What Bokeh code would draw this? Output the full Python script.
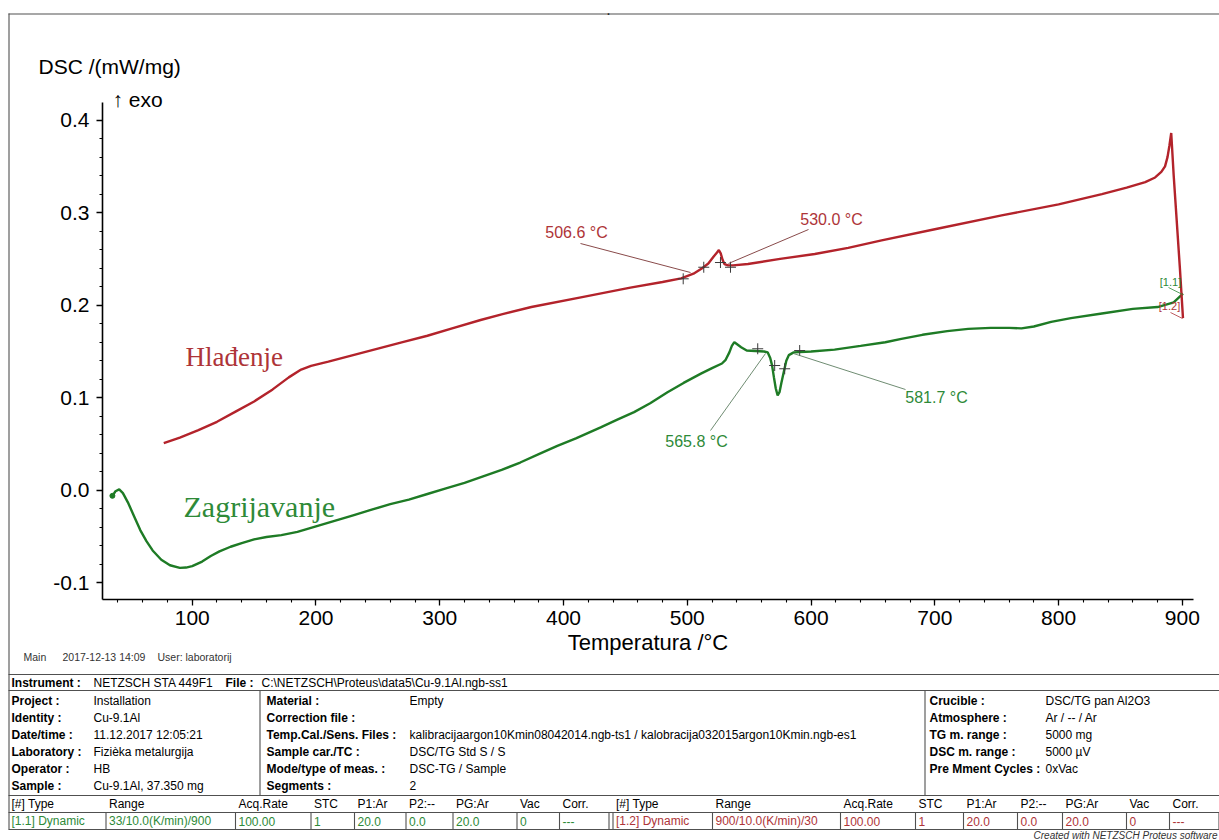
from bokeh.plotting import figure
from bokeh.models import (Range1d, SingleIntervalTicker, PrintfTickFormatter, LinearAxis)
from bokeh.embed import file_html
from bokeh.resources import INLINE
from bokeh.core.properties import value

# ---------------- data ----------------
# heating segment [1.1] (Zagrijavanje): temperature / degC, DSC / (mW/mg)
heat_T = [35.5, 38, 41, 44, 48, 53, 58, 63, 68, 75, 82, 90, 95, 100, 108, 115, 122, 131,
          140, 150, 160, 172, 185, 200, 215, 230, 245, 260, 275, 290, 305, 320, 335, 350,
          365, 380, 395, 410, 420, 430, 443, 457, 470, 484, 497, 511, 520, 528, 531, 534,
          536, 538, 540, 543.5, 548, 555, 562, 565, 567, 568.5, 570, 571.5, 573, 574.5,
          576, 578, 580, 582, 586, 600, 619, 640, 660, 673, 690, 710, 727, 745, 760, 770,
          780, 794, 810, 835, 860, 880, 893, 900.5]
heat_dsc = [-0.006, -0.001, 0.001, -0.003, -0.013, -0.028, -0.043, -0.055, -0.065, -0.075,
            -0.081, -0.0838, -0.0835, -0.082, -0.077, -0.071, -0.066, -0.061, -0.057, -0.053,
            -0.0505, -0.0485, -0.045, -0.039, -0.033, -0.027, -0.021, -0.015, -0.010, -0.004,
            0.002, 0.008, 0.015, 0.022, 0.030, 0.039, 0.048, 0.056, 0.062, 0.068, 0.076,
            0.0845, 0.094, 0.106, 0.116, 0.126, 0.132, 0.137, 0.141, 0.149, 0.156, 0.160,
            0.158, 0.1545, 0.151, 0.1505, 0.150, 0.149, 0.143, 0.135, 0.122, 0.110, 0.1025,
            0.106, 0.116, 0.128, 0.140, 0.146, 0.149, 0.150, 0.152, 0.156, 0.160, 0.1636,
            0.168, 0.172, 0.1744, 0.1755, 0.1755, 0.175, 0.177, 0.182, 0.186, 0.191, 0.196,
            0.198, 0.203, 0.2125]

# cooling segment [1.2] (Hladenje), from 900 degC down
cool_T = [900.5, 898, 895.5, 893, 891, 889.5, 888, 886, 883, 878, 870, 855, 835, 800, 754,
          700, 657, 630, 603, 575, 549, 537, 533, 530, 528.5, 527, 525.5, 524, 521, 517,
          512, 505, 495, 480, 454, 414, 374, 350, 333, 310, 290, 270, 250, 230, 210, 196,
          188, 178, 165, 150, 135, 120, 105, 90, 77]
cool_dsc = [0.186, 0.24, 0.29, 0.34, 0.386, 0.372, 0.36, 0.35, 0.344, 0.338, 0.333, 0.327,
            0.32, 0.309, 0.297, 0.282, 0.270, 0.262, 0.2553, 0.250, 0.2445, 0.243, 0.243,
            0.2445, 0.249, 0.256, 0.2595, 0.257, 0.252, 0.245, 0.240, 0.234, 0.229, 0.225,
            0.219, 0.2085, 0.198, 0.190, 0.184, 0.175, 0.167, 0.160, 0.153, 0.146, 0.139,
            0.1345, 0.1305, 0.122, 0.109, 0.096, 0.085, 0.074, 0.065, 0.057, 0.051]

# evaluation marks (tangent points) of the two effects
cool_mark_T = [496.7, 513.3, 526.8, 534.9]
cool_mark_dsc = [0.2285, 0.241, 0.2461, 0.241]
heat_mark_T = [556.9, 570.6, 578.7, 590.8]
heat_mark_dsc = [0.1529, 0.1348, 0.1313, 0.151]

# onset labels
cool_onsets = ["506.6 °C", "530.0 °C"]
heat_onsets = ["565.8 °C", "581.7 °C"]

x_tick_interval = 100
y_tick_interval = 0.1
x_axis_span = (27.5, 909.0)
y_axis_span = (-0.118, 0.419)

# ---------------- layout ----------------
W, H = 1219, 840
# plot area on the page (pixels) that the axis spans occupy
PX_L, PX_R, PY_T, PY_B = 102.0, 1193.0, 102.0, 599.0
sx = (PX_R - PX_L) / (x_axis_span[1] - x_axis_span[0])
sy = (PY_B - PY_T) / (y_axis_span[1] - y_axis_span[0])
x_full = (x_axis_span[0] - PX_L / sx, x_axis_span[0] + (W - PX_L) / sx)
y_full = (y_axis_span[0] - (H - PY_B) / sy, y_axis_span[1] + PY_T / sy)

RED = "#B3232B"
GREEN = "#1E7B25"
RED_T = "#AE3438"
GREEN_T = "#2E8A38"
FONT = "Liberation Sans"
LINE = "#505050"

p = figure(width=W, height=H, x_range=Range1d(*x_full), y_range=Range1d(*y_full),
           output_backend="svg", toolbar_location=None,
           x_axis_location=None, y_axis_location=None, min_border=0)
p.outline_line_color = None
p.grid.visible = False
p.background_fill_color = "white"
p.border_fill_color = "white"
# page-pixel coordinate system for decorations and the info table
p.extra_x_ranges = {"px": Range1d(0, W)}
p.extra_y_ranges = {"py": Range1d(H, 0)}

xa = LinearAxis(fixed_location=y_axis_span[0], bounds=x_axis_span,
                ticker=SingleIntervalTicker(interval=x_tick_interval, num_minor_ticks=5),
                axis_label="Temperatura /°C")
ya = LinearAxis(fixed_location=x_axis_span[0], bounds=y_axis_span,
                ticker=SingleIntervalTicker(interval=y_tick_interval, num_minor_ticks=5),
                formatter=PrintfTickFormatter(format="%.1f"))
for ax in (xa, ya):
    ax.axis_line_color = "black"
    ax.axis_line_width = 1.6
    ax.major_tick_line_color = "black"
    ax.minor_tick_line_color = "black"
    ax.major_tick_line_width = 1.3
    ax.minor_tick_line_width = 1.1
    ax.major_tick_in = 0
    ax.major_tick_out = 6
    ax.minor_tick_in = 0
    ax.minor_tick_out = 3
    ax.major_label_text_font = FONT
    ax.major_label_text_font_size = "21px"
    ax.major_label_text_color = "black"
    ax.axis_label_text_font = FONT
    ax.axis_label_text_font_size = "22px"
    ax.axis_label_text_font_style = "normal"
    ax.axis_label_text_color = "black"
xa.major_label_standoff = 5
xa.axis_label_standoff = 2
ya.major_label_standoff = 7
p.add_layout(xa, "below")
p.add_layout(ya, "left")

# curves
p.line(heat_T, heat_dsc, line_color=GREEN, line_width=2.4)
p.line(cool_T, cool_dsc, line_color=RED, line_width=2.4)
p.scatter([heat_T[0]], [heat_dsc[0]], size=5, color=GREEN)

# evaluation crosses
p.scatter(cool_mark_T, cool_mark_dsc, marker="cross", size=11, line_color="#3a3a3a", line_width=1)
p.scatter(heat_mark_T, heat_mark_dsc, marker="cross", size=11, line_color="#3a3a3a", line_width=1)

PXR = dict(x_range_name="px", y_range_name="py")

# leader lines (label end -> curve), page pixels
p.segment(x0=[580, 808], y0=[243, 229], x1=[690, 728], y1=[272, 263],
          line_color="#7a3535", line_width=0.9, **PXR)
p.segment(x0=[710, 905], y0=[430, 389], x1=[765, 793], y1=[353, 353],
          line_color="#5f7f62", line_width=0.9, **PXR)
p.segment(x0=[1168], y0=[287], x1=[1182], y1=[294], line_color=GREEN_T, line_width=0.8, **PXR)
p.segment(x0=[1170], y0=[312], x1=[1182], y1=[318], line_color=RED_T, line_width=0.8, **PXR)

# onset texts
p.text(x=[576, 831], y=[232, 219], text=cool_onsets, text_font=value(FONT),
       text_font_size="16px", text_color=RED_T, text_align="center", text_baseline="middle", **PXR)
p.text(x=[696, 936], y=[441, 397], text=heat_onsets, text_font=value(FONT),
       text_font_size="16px", text_color=GREEN_T, text_align="center", text_baseline="middle", **PXR)
p.text(x=[1170], y=[281], text=["[1.1]"], text_font=value(FONT), text_font_size="11px",
       text_color=GREEN_T, text_align="center", text_baseline="middle", **PXR)
p.text(x=[1169], y=[305], text=["[1.2]"], text_font=value(FONT), text_font_size="11px",
       text_color=RED_T, text_align="center", text_baseline="middle", **PXR)

# segment names
p.text(x=[185], y=[356], text=["Hlađenje"], text_font=value("Liberation Serif"),
       text_font_size="27px", text_color=RED_T, text_align="left", text_baseline="middle", **PXR)
p.text(x=[183], y=[506], text=["Zagrijavanje"], text_font=value("Liberation Serif"),
       text_font_size="30px", text_color=GREEN_T, text_align="left", text_baseline="middle", **PXR)

# header texts
p.text(x=[38], y=[66], text=["DSC /(mW/mg)"], text_font=value(FONT), text_font_size="21px",
       text_color="black", text_align="left", text_baseline="middle", **PXR)
p.text(x=[112], y=[99], text=["↑ exo"], text_font=value(FONT), text_font_size="21px",
       text_color="black", text_align="left", text_baseline="middle", **PXR)
p.text(x=[608], y=[8], text=["."], text_font=value(FONT), text_font_size="16px",
       text_color="black", text_align="center", text_baseline="alphabetic", **PXR)
p.text(x=[23, 62, 157], y=[656] * 3, text=["Main", "2017-12-13 14:09", "User: laboratorij"],
       text_font=value(FONT), text_font_size="10.5px", text_color="#333333",
       text_align="left", text_baseline="middle", **PXR)

# ---------------- info table (page pixels) ----------------
rows_y = [700, 717, 734, 751, 768, 785]
hdr_y = 803
dat_y = 820.5

bold_txt = ["Instrument :", "File :",
            "Project :", "Identity :", "Date/time :", "Laboratory :", "Operator :", "Sample :",
            "Material :", "Correction file :", "Temp.Cal./Sens. Files :", "Sample car./TC :",
            "Mode/type of meas. :", "Segments :",
            "Crucible :", "Atmosphere :", "TG m. range :", "DSC m. range :", "Pre Mment Cycles :"]
bold_x = [11, 225] + [11] * 6 + [266] * 6 + [929] * 5
bold_y = [682, 682] + rows_y + rows_y + rows_y[:5]

norm_txt = ["NETZSCH STA 449F1", "C:\\NETZSCH\\Proteus\\data5\\Cu-9.1Al.ngb-ss1",
            "Installation", "Cu-9.1Al", "11.12.2017 12:05:21", "Fizièka metalurgija", "HB",
            "Cu-9.1Al, 37.350 mg",
            "Empty", "kalibracijaargon10Kmin08042014.ngb-ts1 / kalobracija032015argon10Kmin.ngb-es1",
            "DSC/TG Std S / S", "DSC-TG / Sample", "2",
            "DSC/TG pan Al2O3", "Ar / -- / Ar", "5000 mg", "5000 µV", "0xVac"]
norm_x = [93, 261] + [93] * 6 + [409] * 5 + [1045] * 5
norm_y = [682, 682] + rows_y + [rows_y[0], rows_y[2], rows_y[3], rows_y[4], rows_y[5]] + rows_y[:5]

hdr_labels = ["[#] Type", "Range", "Acq.Rate", "STC", "P1:Ar", "P2:--", "PG:Ar", "Vac", "Corr."]
left_cells = [8, 105.5, 235, 310.5, 354, 405.5, 452.5, 516.5, 559, 608.5]
right_cells = [612.5, 712, 840, 915, 963, 1017, 1062, 1126, 1169, 1218.5]
seg1_vals = ["[1.1] Dynamic", "33/10.0(K/min)/900", "100.00", "1", "20.0", "0.0", "20.0", "0", "---"]
seg2_vals = ["[1.2] Dynamic", "900/10.0(K/min)/30", "100.00", "1", "20.0", "0.0", "20.0", "0", "---"]

common = dict(text_font=value(FONT), text_font_size="12px", text_baseline="middle",
              text_align="left", **PXR)
p.text(x=bold_x, y=bold_y, text=bold_txt, text_font_style="bold", text_color="black", **common)
p.text(x=norm_x, y=norm_y, text=norm_txt, text_color="black", **common)
p.text(x=[c + 3 for c in left_cells[:-1]] + [c + 3 for c in right_cells[:-1]], y=[hdr_y] * 18,
       text=hdr_labels + hdr_labels, text_color="black", **common)
p.text(x=[c + 3 for c in left_cells[:-1]], y=[dat_y] * 9, text=seg1_vals, text_color=GREEN_T, **common)
p.text(x=[c + 3 for c in right_cells[:-1]], y=[dat_y] * 9, text=seg2_vals, text_color=RED_T, **common)
p.text(x=[1217], y=[834.5], text=["Created with NETZSCH Proteus software"], text_font=value(FONT),
       text_font_size="10px", text_font_style="italic", text_color="#333333",
       text_align="right", text_baseline="middle", **PXR)

# frame and table rules
hx0 = [8, 8, 8, 8, 8, 8]
hx1 = [W, W, W, W, W, W]
hy = [13.5, 674, 690, 795, 812, 829]
vx = [8.5, 259.5, 924.5] + left_cells[1:] + right_cells
vy0 = [13, 690, 690] + [812] * (len(left_cells) - 1 + len(right_cells))
vy1 = [829, 795, 795] + [829] * (len(left_cells) - 1 + len(right_cells))
p.segment(x0=hx0, y0=hy, x1=hx1, y1=hy, line_color=LINE, line_width=1.1, **PXR)
p.segment(x0=vx, y0=vy0, x1=vx, y1=vy1, line_color=LINE, line_width=1.1, **PXR)

open("out.html", "w").write(file_html(p, INLINE))
